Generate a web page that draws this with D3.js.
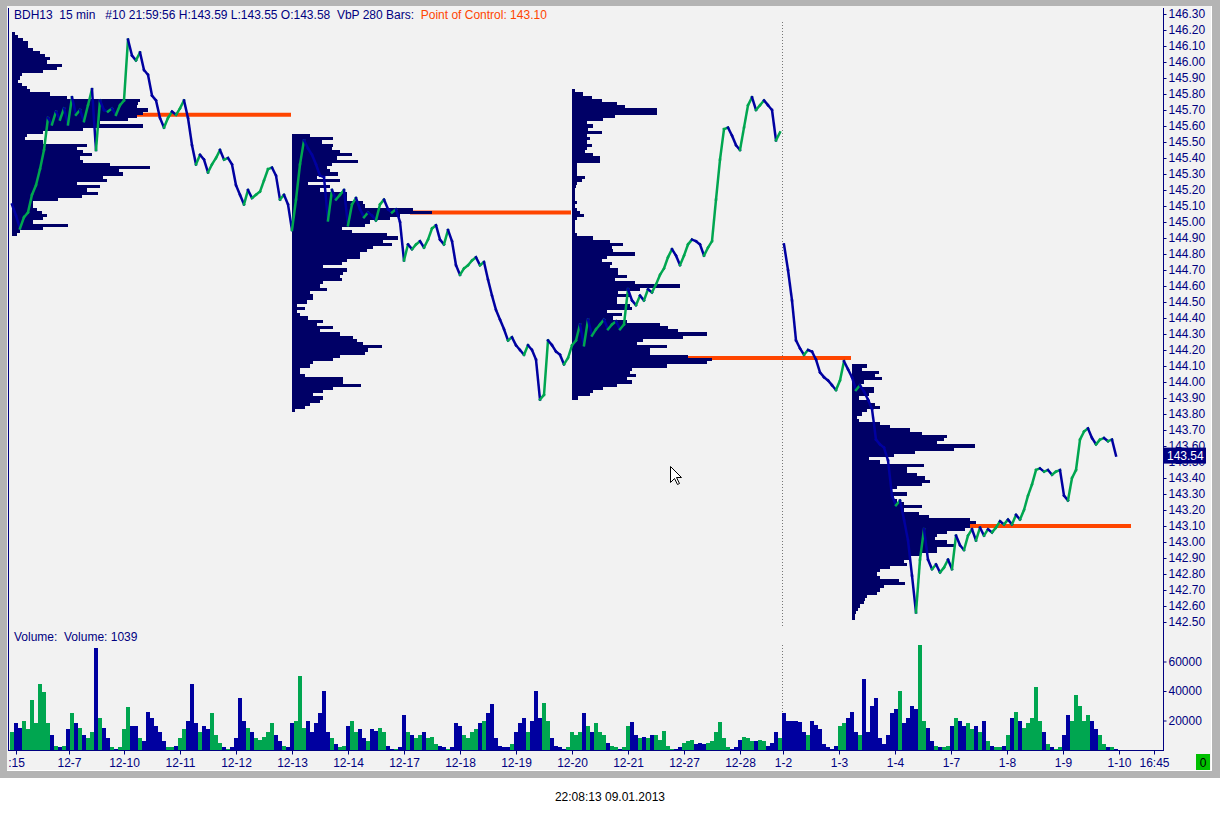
<!DOCTYPE html>
<html><head><meta charset="utf-8">
<script src="https://cdn.jsdelivr.net/npm/d3@7"></script>
<style>
body{margin:0;background:#fff;}
svg{display:block;}
</style></head><body>
<svg id="c" width="1220" height="813"></svg>
<script>
// ---------------- DATA ----------------
// 15-min bars; one close sampled every 4 bars
const barsPerSample = 4;
const priceClose = [
145.11,145.04,144.96,145.03,145.06,145.17,145.23,145.33,145.45,145.65,
145.61,145.69,145.64,145.71,145.61,145.78,145.67,145.70,145.63,145.73,
145.83,145.45,145.76,145.70,145.69,145.71,145.67,145.73,145.76,146.14,
146.04,146.01,146.06,145.95,145.92,145.79,145.76,145.65,145.59,145.65,
145.69,145.67,145.71,145.76,145.65,145.48,145.36,145.42,145.39,145.31,
145.36,145.40,145.45,145.39,145.40,145.36,145.23,145.17,145.11,145.20,
145.15,145.17,145.19,145.26,145.33,145.34,145.29,145.14,145.17,145.11,
144.95,145.14,145.36,145.51,145.46,145.42,145.36,145.29,145.28,145.01,
145.20,145.14,145.17,145.20,144.98,145.11,145.15,145.08,145.03,145.06,
145.04,145.01,145.11,145.14,145.08,145.06,145.08,145.00,144.76,144.86,
144.83,144.86,144.88,144.84,144.89,144.96,144.98,144.89,144.86,144.95,
144.88,144.73,144.67,144.71,144.73,144.76,144.78,144.73,144.75,144.64,
144.54,144.45,144.39,144.33,144.26,144.28,144.23,144.20,144.17,144.23,
144.20,144.14,143.89,143.92,144.26,144.23,144.19,144.17,144.11,144.15,
144.23,144.26,144.36,144.23,144.39,144.29,144.33,144.36,144.39,144.33,
144.36,144.38,144.33,144.36,144.58,144.51,144.48,144.54,144.51,144.58,
144.56,144.61,144.67,144.71,144.78,144.83,144.79,144.73,144.79,144.86,
144.89,144.88,144.86,144.79,144.84,144.88,145.14,145.39,145.58,145.59,
145.54,145.48,145.45,145.59,145.73,145.78,145.70,145.73,145.76,145.73,
145.70,145.51,145.56,144.86,144.70,144.51,144.26,144.21,144.17,144.20,
144.19,144.14,144.06,144.03,144.01,143.98,143.95,144.01,144.13,144.08,
144.03,143.95,143.98,143.94,143.89,143.83,143.64,143.61,143.59,143.51,
143.29,143.23,143.26,143.14,143.01,142.79,142.56,142.89,143.08,142.89,
142.83,142.86,142.81,142.84,142.89,142.83,143.04,142.98,142.95,143.04,
143.08,143.01,143.09,143.04,143.08,143.06,143.09,143.13,143.11,143.14,
143.11,143.17,143.14,143.20,143.29,143.36,143.45,143.46,143.44,143.45,
143.42,143.44,143.45,143.29,143.26,143.40,143.45,143.64,143.69,143.71,
143.65,143.61,143.64,143.65,143.63,143.64,143.54
];
// volume per sample, thousands of contracts
const volumeThousands = [
12,18,15,20,14,34,18,45,39,18,
10,3,2,3,14,25,18,15,10,8,
12,69,22,15,8,2,1,2,14,29,
16,16,8,6,26,22,16,12,6,2,
2,3,8,14,20,45,18,12,16,14,
25,10,5,2,1,2,8,35,20,15,
12,8,7,9,12,18,10,6,3,2,
18,20,50,15,20,12,18,25,40,12,
8,4,2,3,16,20,12,14,8,6,
14,13,15,12,3,1,1,2,24,12,
10,8,10,12,8,9,4,3,2,1,
2,18,16,10,8,12,14,18,20,25,
31,8,3,2,2,4,12,18,22,12,
20,40,22,32,20,8,3,2,1,2,
12,10,12,25,16,12,18,12,10,5,
3,2,1,2,16,19,10,8,9,8,
10,10,7,13,3,1,1,2,5,6,
7,4,5,4,5,6,12,19,8,2,
1,2,7,9,8,6,6,7,6,3,
5,12,8,25,20,20,20,19,12,10,
20,17,14,4,2,1,3,16,18,22,
26,12,10,48,12,30,35,8,4,10,
25,28,40,18,22,30,28,71,20,15,
6,3,2,2,3,16,22,20,16,18,
14,16,12,20,6,3,2,2,3,10,
22,26,20,15,18,22,43,20,12,4,
2,1,2,10,24,20,37,30,20,24,
20,14,10,4,2,2,1
];
const sessionBreakBar = 770;           // year change 12-28 -> 1-2
const dateTickBars   = [4,57,112,168,224,280,336,392,448,504,560,616,672,728,771,827,883,939,995,1051,1107,1142];
const dateTickLabels = [":15","12-7","12-10","12-11","12-12","12-13","12-14","12-17","12-18","12-19","12-20","12-21","12-27","12-28","1-2","1-3","1-4","1-7","1-8","1-9","1-10","16:45"];
const priceTicks = [146.30,146.20,146.10,146.00,145.90,145.80,145.70,145.60,145.50,145.40,145.30,145.20,145.10,145.00,
  144.90,144.80,144.70,144.60,144.50,144.40,144.30,144.20,144.10,144.00,143.90,143.80,143.70,143.60,143.50,143.40,
  143.30,143.20,143.10,143.00,142.90,142.80,142.70,142.60,142.50];
const volumeTicksThousands = [20,40,60];

// Volume-by-price profiles, every 280 bars; rows of 0.02 from the top price
const vbpBars = 280;
const vbpStep = 0.02;
const vbpStartBar = [0,280,560,840];
const vbpTopPrice = [146.18,145.54,145.82,144.10];
const vbpPoc = [145.67,145.06,144.15,143.10];
const vbp1 = [3,6,11,16,16,21,28,33,38,35,50,45,31,10,8,6,10,15,18,38,
  55,128,126,125,136,131,125,116,88,131,71,31,15,13,31,75,65,71,80,68,
  71,98,138,107,111,91,95,65,88,75,86,70,46,21,21,25,30,35,31,21,
  56,31,8,5];
const vbp2 = [18,41,30,41,40,48,60,45,66,40,35,38,46,25,48,16,38,28,55,55,
  55,71,73,121,140,108,98,78,73,50,60,95,106,91,100,81,75,68,68,55,
  50,31,55,51,48,50,31,28,35,18,21,21,15,5,13,5,8,16,31,25,
  41,28,48,61,65,71,90,76,73,48,41,21,18,8,8,13,51,51,69,41,
  31,21,31,28,18,13,3];
const vbp3 = [3,11,20,30,45,53,85,85,43,31,15,21,16,30,15,18,15,20,15,13,
  21,28,28,5,5,5,5,13,10,5,4,3,3,3,3,5,3,5,8,12,
  5,3,3,3,3,5,21,38,51,40,41,63,35,30,40,38,46,46,55,43,
  63,108,68,46,58,45,45,58,60,35,50,41,55,88,96,106,135,111,71,65,
  95,78,78,116,140,135,95,60,58,64,55,60,45,31,21,18,6];
const vbp4 = [15,10,27,23,30,12,7,22,22,17,7,18,23,28,15,10,5,7,28,38,
  58,70,95,92,85,123,102,63,42,17,28,72,55,55,65,73,78,70,45,40,
  55,42,45,52,70,52,67,77,118,124,118,113,95,85,83,95,102,85,85,68,
  57,52,55,38,28,25,28,47,53,32,28,25,15,13,12,8,6,4,3,3];
const vbpProfiles = [vbp1,vbp2,vbp3,vbp4];

const headerMain = "BDH13  15 min   #10 21:59:56 H:143.59 L:143.55 O:143.58  VbP 280 Bars:  ";
const headerPoc  = "Point of Control: 143.10";
const volumeLabel = "Volume:  Volume: 1039";
const footerText = "22:08:13 09.01.2013";

// ---------------- DRAW ----------------
const FONT = '"Liberation Sans", Arial, sans-serif';
const NAVY = '#000080', BLUE = '#0000a0', GREEN = '#00a650', PROFILE = '#000066', POC = '#ff4500';
const svg = d3.select('#c').attr('font-family', FONT);

// window frame
svg.append('rect').attr('x',0).attr('y',0).attr('width',1220).attr('height',778).attr('fill','#b4b4b4');
svg.append('rect').attr('x',7).attr('y',6).attr('width',1205).attr('height',764).attr('fill','#f2f2f2');
svg.append('line').attr('x1',7).attr('x2',1212).attr('y1',770.5).attr('y2',770.5).attr('stroke','#ffffff');
svg.append('line').attr('x1',1211.5).attr('x2',1211.5).attr('y1',6).attr('y2',770).attr('stroke','#ffffff');

const lastBar = (priceClose.length - 1) * barsPerSample;
const x = d3.scaleLinear().domain([0, lastBar]).range([12, 12 + lastBar]);
const yP = d3.scaleLinear().domain([142.5, 146.3]).range([622, 14]);
const yV = d3.scaleLinear().domain([0, 20]).range([750, 720.5]);
const wP = d3.scaleLinear().domain([0, 100]).range([0, 100]);

// POC lines (under the profiles)
const pocG = svg.append('g');
vbpProfiles.forEach((prof, pi) => {
  const k = Math.round((vbpTopPrice[pi] - vbpPoc[pi]) / vbpStep);
  const x0 = x(vbpStartBar[pi]);
  pocG.append('line')
    .attr('x1', x0 + wP(prof[k]) - 22)
    .attr('x2', x(vbpStartBar[pi] + vbpBars) - 1)
    .attr('y1', yP(vbpPoc[pi])).attr('y2', yP(vbpPoc[pi]))
    .attr('stroke', POC).attr('stroke-width', 4);
});

// profiles
vbpProfiles.forEach((prof, pi) => {
  const x0 = x(vbpStartBar[pi]);
  svg.append('g').attr('shape-rendering','crispEdges')
    .selectAll('rect').data(prof).join('rect')
    .attr('x', x0)
    .attr('y', (d,k) => yP(vbpTopPrice[pi] - k*vbpStep + vbpStep/2))
    .attr('height', (d,k) => yP(vbpTopPrice[pi] - k*vbpStep - vbpStep/2) - yP(vbpTopPrice[pi] - k*vbpStep + vbpStep/2))
    .attr('width', d => wP(d))
    .attr('fill', PROFILE);
});

// session separator (dotted)
const sx = Math.round(x(sessionBreakBar)) + 0.5;
svg.append('line').attr('x1',sx).attr('x2',sx).attr('y1',22).attr('y2',628)
  .attr('stroke','#777').attr('stroke-dasharray','1,2');
svg.append('line').attr('x1',sx).attr('x2',sx).attr('y1',645).attr('y2',750)
  .attr('stroke','#777').attr('stroke-dasharray','1,2');

// price line, segments coloured by direction
const segs = [];
for (let i = 1; i < priceClose.length; i++) {
  const b0 = (i-1)*barsPerSample, b1 = i*barsPerSample;
  if (b0 < sessionBreakBar && b1 > sessionBreakBar) continue;
  segs.push({b0, b1, p0: priceClose[i-1], p1: priceClose[i]});
}
svg.append('g').selectAll('line').data(segs).join('line')
  .attr('x1', d => x(d.b0)).attr('x2', d => x(d.b1))
  .attr('y1', d => yP(d.p0)).attr('y2', d => yP(d.p1))
  .attr('stroke', d => d.p1 >= d.p0 ? GREEN : BLUE)
  .attr('stroke-width', 2.5).attr('stroke-linecap','square');

// volume bars
svg.append('g').attr('shape-rendering','crispEdges')
  .selectAll('rect').data(volumeThousands).join('rect')
  .attr('x', (d,i) => x(i*barsPerSample) - 2)
  .attr('width', 4)
  .attr('y', d => yV(d))
  .attr('height', d => yV(0) - yV(d))
  .attr('fill', (d,i) => (i === 0 || priceClose[i] >= priceClose[i-1]) ? GREEN : BLUE);

// axes lines
svg.append('line').attr('x1',8.5).attr('x2',8.5).attr('y1',8).attr('y2',750).attr('stroke',NAVY);
svg.append('line').attr('x1',1163.5).attr('x2',1163.5).attr('y1',8).attr('y2',751).attr('stroke',NAVY);
svg.append('line').attr('x1',8).attr('x2',1164).attr('y1',750.5).attr('y2',750.5).attr('stroke',NAVY);

function styleAxis(g){
  g.select('.domain').remove();
  g.attr('font-family', FONT).attr('font-size', 12);
  g.selectAll('line').attr('stroke', NAVY);
  g.selectAll('text').attr('fill', NAVY);
}
// price axis
svg.append('g').attr('transform','translate(1163.5,0)')
  .call(d3.axisRight(yP).tickValues(priceTicks).tickFormat(d3.format('.2f')).tickSize(3).tickPadding(2))
  .call(styleAxis);
// volume axis
svg.append('g').attr('transform','translate(1163.5,0)')
  .call(d3.axisRight(yV).tickValues(volumeTicksThousands).tickFormat(d => d3.format('d')(d*1000)).tickSize(3).tickPadding(2))
  .call(styleAxis);
// date axis
svg.append('g').attr('transform','translate(0,750.5)')
  .call(d3.axisBottom(x).tickValues(dateTickBars).tickFormat((d,i) => dateTickLabels[i]).tickSize(4).tickPadding(4))
  .call(styleAxis);

// last price marker (covers the tick label beneath it, as in the original)
const lastPrice = priceClose[priceClose.length - 1];
svg.append('rect').attr('x',1164).attr('y',yP(lastPrice)-8).attr('width',42).attr('height',16).attr('fill',NAVY);
svg.append('text').attr('x',1167).attr('y',yP(lastPrice)+4.5).attr('font-size',12).attr('fill','#fff')
  .text(d3.format('.2f')(lastPrice));

// header
const hdr = svg.append('text').attr('x',14).attr('y',19).attr('font-size',12).style('white-space','pre');
hdr.append('tspan').attr('fill',NAVY).text(headerMain);
hdr.append('tspan').attr('fill',POC).text(headerPoc);

svg.append('text').attr('x',14).attr('y',641).attr('font-size',12).attr('fill',NAVY)
  .style('white-space','pre').text(volumeLabel);

// green status box
svg.append('rect').attr('x',1196).attr('y',754).attr('width',14).attr('height',16).attr('fill','#00c000');
svg.append('text').attr('x',1203).attr('y',766.5).attr('text-anchor','middle').attr('font-size',12).attr('fill','#000').text('0');

// footer time
svg.append('text').attr('x',610).attr('y',801).attr('text-anchor','middle').attr('font-size',12).attr('fill','#000').text(footerText);

// mouse pointer as in the screenshot
svg.append('path').attr('transform','translate(670.5,466.5)')
  .attr('d','M0,0 L0,16 L4,12 L7,18 L9,17 L6,11 L11,11 Z')
  .attr('fill','#fff').attr('stroke','#000').attr('stroke-width',1);
</script>
</body></html>
